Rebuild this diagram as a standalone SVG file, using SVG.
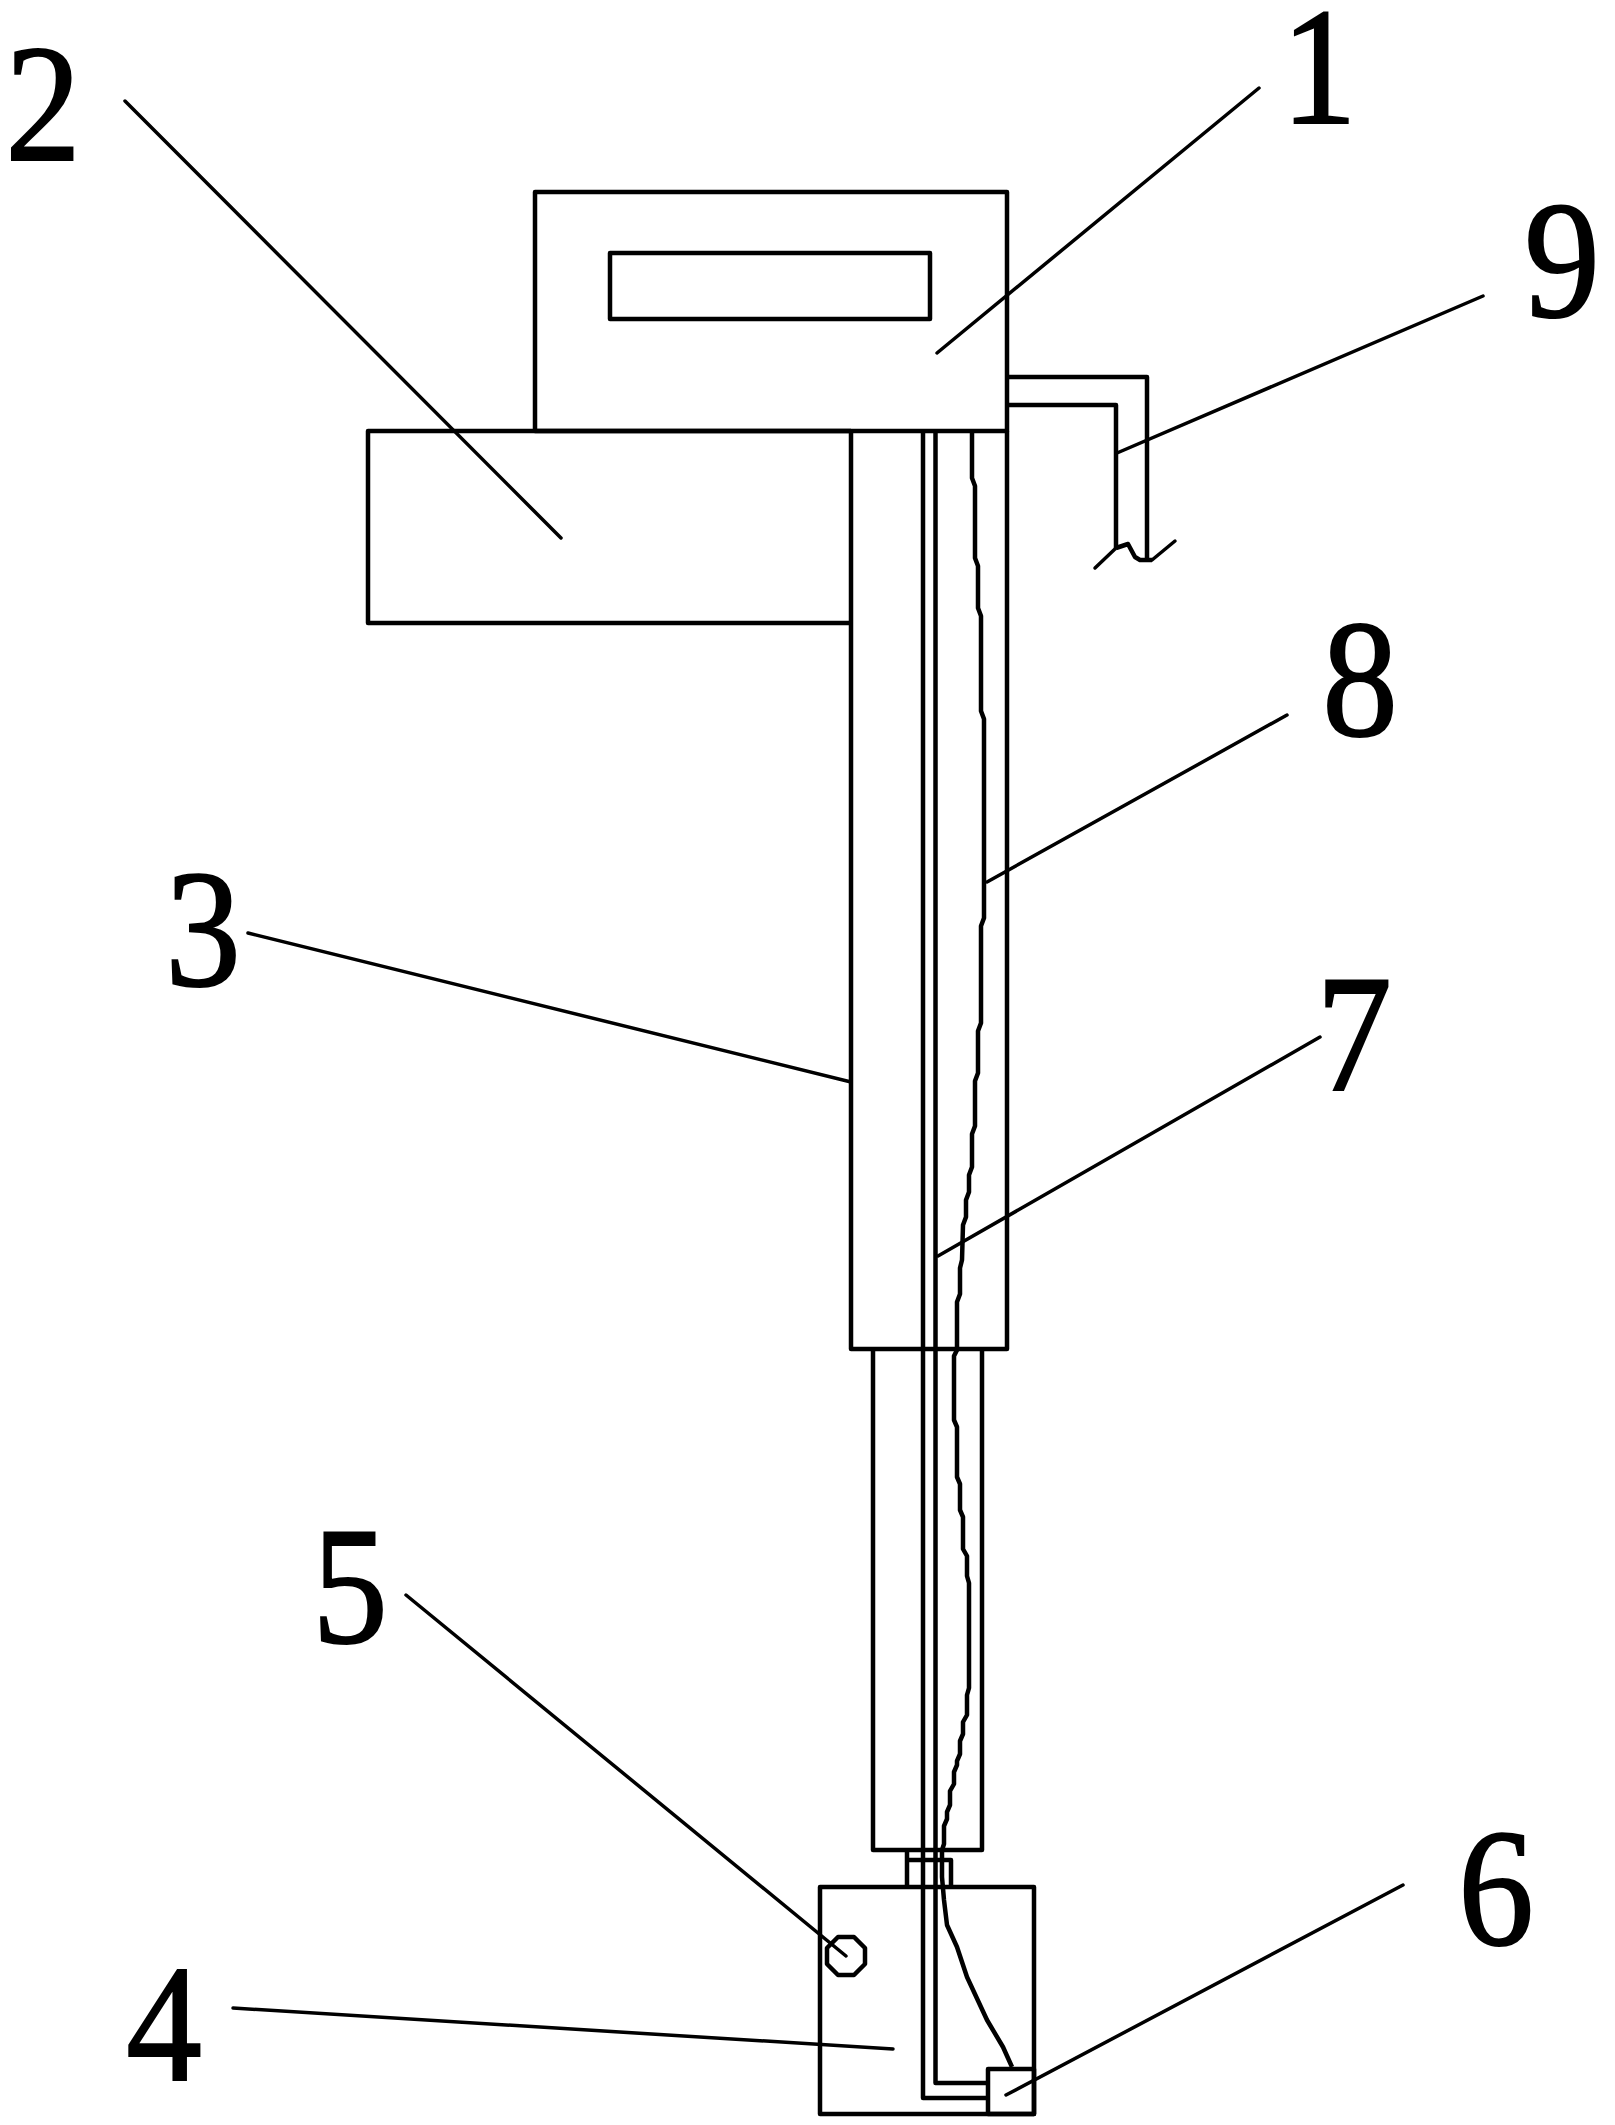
<svg xmlns="http://www.w3.org/2000/svg" width="1615" height="2125" viewBox="0 0 1615 2125">
<style>
.s{fill:none;stroke:#000;stroke-width:4.5;stroke-linejoin:round}
.l{fill:none;stroke:#000;stroke-width:3.5;stroke-linecap:round}
text{font-family:"Liberation Serif","Times New Roman",serif;font-size:168px;fill:#000;stroke:#000;stroke-width:2;text-anchor:middle}
</style>
<rect width="1615" height="2125" fill="#fff"/>
<g id="node-1"><rect class="s" x="535" y="192" width="472" height="239"/><rect class="s" x="610" y="253" width="320" height="66"/></g>
<g id="node-2"><path class="s" d="M851 431H368V623H851"/></g>
<g id="node-3"><path class="s" d="M851 431V1349H1007V431"/><path class="s" d="M873 1349V1850H982V1349"/></g>
<g id="node-4"><path class="s" d="M907 1850V1887M907 1860H951V1887"/><rect class="s" x="820" y="1887" width="214" height="227"/></g>
<g id="node-5"><polygon class="s" points="838,1937 854,1937 865,1948 865,1964 854,1975 838,1975 827,1964 827,1948"/></g>
<g id="node-6"><rect class="s" x="988" y="2069" width="46" height="45"/></g>
<g id="node-7"><path class="s" d="M923 431V2098H988M935.500 431V2083H988"/></g>
<g id="node-8"><polyline class="s" points="972,431 972,478 975,486 975,558 978,566 978,608 981,616 981,711 984,719 984,918 981,926 981,1023 978,1031 978,1073 975,1081 975,1126 972,1134 972,1167 969,1175 969,1192 966,1200 966,1217 963,1225 962,1260 960,1268 960,1294 957,1302 957,1350 954,1356 954,1420 957,1427 957,1477 960,1484 960,1510 963,1517 963,1549 967,1556 967,1576 969,1583 969,1688 967,1695 967,1715 963,1722 963,1734 960,1741 960,1754 957,1761 957,1765 954,1772 954,1784 950,1791 950,1805 947,1812 947,1819 944,1826 944,1844 942,1850 942,1877 944,1900 947,1925 957,1947 967,1977 987,2020 1003,2047 1012,2067"/></g>
<g id="node-9"><path class="s" d="M1007 377H1147V560M1007 405H1116V548"/><path class="s" d="M1116 548L1128 544L1135 557L1140 560H1152"/></g>
<g id="connectors">
<path class="l" d="M1259 88L937 353"/>
<path class="l" d="M125 101L561 538"/>
<path class="l" d="M248 933L851 1082"/>
<path class="l" d="M233 2008L893 2049"/>
<path class="l" d="M406 1595L846 1956"/>
<path class="l" d="M1403 1885L1006 2095"/>
<path class="l" d="M1320 1037L938 1256"/>
<path class="l" d="M1287 715L987 882"/>
<path class="l" d="M1483 296L1117 453"/>
<path class="l" d="M1095 568L1116 548M1152 560L1175 541"/>
</g>
<g id="labels">
<text transform="translate(1319 123) scale(.9 1)">1</text>
<text transform="translate(43 160) scale(.9 1)">2</text>
<text transform="translate(203 985) scale(.9 1)">3</text>
<text transform="translate(164 2080) scale(.9 1)">4</text>
<text transform="translate(350 1642) scale(.9 1)">5</text>
<text transform="translate(1496 1944) scale(.9 1)">6</text>
<text transform="translate(1354 1090) scale(.9 1)">7</text>
<text transform="translate(1360 735) scale(.9 1)">8</text>
<text transform="translate(1562 316) scale(.9 1)">9</text>
</g>
</svg>
